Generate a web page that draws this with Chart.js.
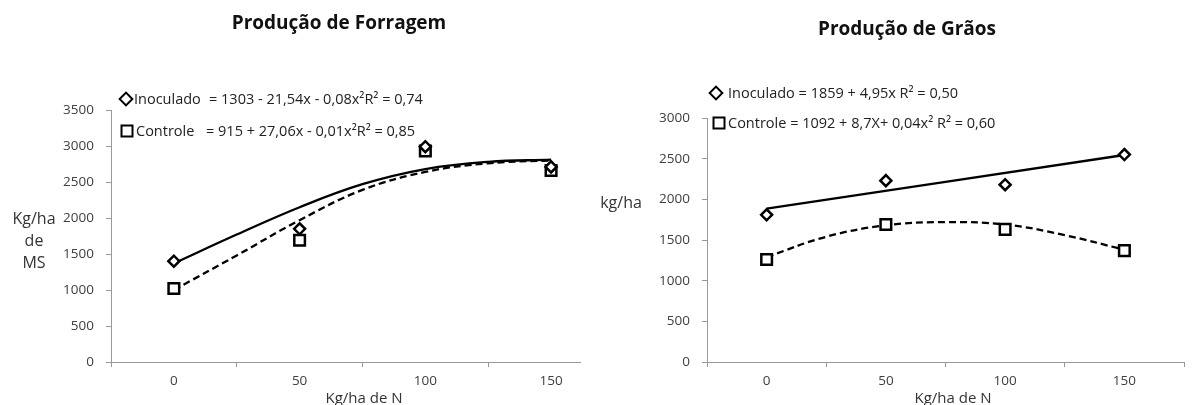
<!DOCTYPE html>
<html>
<head>
<meta charset="utf-8">
<script src="https://cdn.jsdelivr.net/npm/chart.js@4.4.1/dist/chart.umd.min.js"></script>
<style>
  body { margin: 0; background: #fff; width: 1194px; height: 405px; position: relative; overflow: hidden; font-family: "Open Sans", sans-serif; color: #222; }
  canvas { position: absolute; top: 0; }
  #c1 { left: 0; }
  #c2 { left: 590px; }
  .t { position: absolute; white-space: nowrap; line-height: 1; transform: translateY(-50%); font-size: 14.5px; color: #222; }
  .c { transform: translate(-50%, -50%); }
  .title { font-weight: bold; font-size: 19px; color: #111; }
  .ax { font-size: 16px; color: #333; }
  .axx { font-size: 15px; color: #333; }
  .dia { position: absolute; width: 7px; height: 7px; border: 2px solid #000; background: #fff; transform: translate(-50%, -50%) rotate(45deg); }
  .sq { position: absolute; width: 9px; height: 9px; border: 2px solid #000; background: #fff; transform: translate(-50%, -50%); }
</style>
</head>
<body>
<canvas id="c1" width="590" height="405"></canvas>
<canvas id="c2" width="604" height="405"></canvas>

<!-- titulos -->
<div class="t c title" style="left:339px; top:22px;">Produção de Forragem</div>
<div class="t c title" style="left:907px; top:28px;">Produção de Grãos</div>

<!-- legendas com equações -->
<div class="dia" style="left:126px; top:99px;"></div>
<div class="t" style="left:134px; top:99px;">Inoculado</div>
<div class="t" style="left:209px; top:99px;">= 1303 - 21,54x - 0,08x²R² = 0,74</div>
<div class="sq" style="left:127px; top:131px;"></div>
<div class="t" style="left:136px; top:131px;">Controle</div>
<div class="t" style="left:206px; top:131px;">= 915 + 27,06x - 0,01x²R² = 0,85</div>

<div class="dia" style="left:716px; top:93px;"></div>
<div class="t" style="left:728px; top:93px;">Inoculado = 1859 + 4,95x R² = 0,50</div>
<div class="sq" style="left:719px; top:123px;"></div>
<div class="t" style="left:728px; top:123px;">Controle = 1092 + 8,7X+ 0,04x² R² = 0,60</div>

<!-- titulos dos eixos -->
<div class="t c ax" style="left:34px; top:218px;">Kg/ha</div>
<div class="t c ax" style="left:34px; top:240px;">de</div>
<div class="t c ax" style="left:34px; top:262px;">MS</div>
<div class="t c axx" style="left:364px; top:397px;">Kg/ha de N</div>
<div class="t c ax" style="left:621px; top:202px;">kg/ha</div>
<div class="t c axx" style="left:953px; top:397px;">Kg/ha de N</div>

<script>
// doses de N (kg/ha)
const doses = [0, 50, 100, 150];
const xLabels = [0, 50, 100, 150];
const xTicks = [-25, 0, 25, 50, 75, 100, 125, 150, 175];

// Produção de forragem (kg/ha de MS)
const forragemInoculado = [1400, 1850, 2990, 2710];
const forragemControle = [1020, 1690, 2930, 2660];
// linhas de tendência
const tendX = [0, 25, 50, 75, 100, 125, 150];
const forragemTendInoc = [1370, 1770, 2150, 2470, 2680, 2780, 2810];
const forragemTendCont = [1000, 1480, 1970, 2390, 2640, 2760, 2800];

// Produção de grãos (kg/ha)
const graosInoculado = [1810, 2230, 2180, 2550];
const graosControle = [1260, 1690, 1630, 1370];
const graosTendX = [0, 150];
const graosTendInoc = [1885, 2545];
const graosTendCont = [1290, 1540, 1680, 1720, 1690, 1560, 1380];

const axisGray = "#999";
const tickFont = { family: "Open Sans", size: 13.5 };

function pts(xs, ys) {
  return xs.map((x, i) => ({ x: x, y: ys[i] }));
}

function criarGrafico(id, opts) {
  const ctx = document.getElementById(id).getContext("2d");
  return new Chart(ctx, {
    type: "line",
    data: {
      datasets: [
        {
          label: "Inoculado",
          data: pts(doses, opts.inoc),
          showLine: false,
          pointStyle: "rectRot",
          pointRadius: 5.5,
          pointBorderWidth: 2.5,
          pointBackgroundColor: "#fff",
          pointBorderColor: "#000",
        },
        {
          label: "Controle",
          data: pts(doses, opts.cont),
          showLine: false,
          pointStyle: "rect",
          pointRadius: 7.5,
          pointBorderWidth: 2.5,
          pointBackgroundColor: "#fff",
          pointBorderColor: "#000",
        },
        {
          label: "Tendência Inoculado",
          data: pts(opts.tendInocX, opts.tendInoc),
          borderColor: "#000",
          borderWidth: 2.3,
          pointRadius: 0,
          tension: 0.4,
        },
        {
          label: "Tendência Controle",
          data: pts(tendX, opts.tendCont),
          borderColor: "#000",
          borderWidth: 2.3,
          borderDash: [7, 4],
          pointRadius: 0,
          tension: 0.4,
        },
      ],
    },
    options: {
      responsive: false,
      animation: false,
      layout: { padding: { top: opts.top, right: opts.right, left: 0, bottom: 0 } },
      plugins: { legend: { display: false }, tooltip: { enabled: false } },
      scales: {
        x: {
          type: "linear",
          min: -25,
          max: opts.xMax,
          afterBuildTicks: (s) => {
            s.ticks = xTicks.filter((v) => v <= opts.xMax).map((v) => ({ value: v }));
          },
          afterFit: (s) => { s.height = 43; },
          border: { color: axisGray, width: 1 },
          grid: {
            drawOnChartArea: false,
            drawTicks: true,
            tickLength: 5,
            tickColor: (c) => (xLabels.includes(c.tick.value) ? "rgba(0,0,0,0)" : axisGray),
          },
          ticks: {
            autoSkip: false,
            maxRotation: 0,
            padding: 6,
            color: "#404040",
            font: tickFont,
            callback: (v) => (xLabels.includes(v) ? String(v) : ""),
          },
        },
        y: {
          min: 0,
          max: opts.yMax,
          afterFit: (s) => { s.width = opts.yWidth; },
          border: { color: axisGray, width: 1 },
          grid: { drawOnChartArea: false, drawTicks: true, tickLength: 5, tickColor: axisGray },
          ticks: { stepSize: 500, padding: 12, color: "#404040", font: tickFont, callback: (v) => String(v) },
        },
      },
    },
  });
}

criarGrafico("c1", {
  inoc: forragemInoculado,
  cont: forragemControle,
  tendInocX: tendX,
  tendInoc: forragemTendInoc,
  tendCont: forragemTendCont,
  yMax: 3500,
  xMax: 161.5,
  top: 110,
  right: 9,
  yWidth: 111,
});

criarGrafico("c2", {
  inoc: graosInoculado,
  cont: graosControle,
  tendInocX: graosTendX,
  tendInoc: graosTendInoc,
  tendCont: graosTendCont,
  yMax: 3000,
  xMax: 175,
  top: 118,
  right: 0,
  yWidth: 117,
});
</script>
</body>
</html>
